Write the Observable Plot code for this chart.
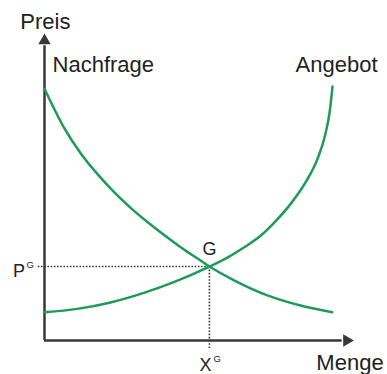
<!DOCTYPE html>
<html>
<head>
<meta charset="utf-8">
<script src="https://cdn.jsdelivr.net/npm/d3@7"></script>
<script src="https://cdn.jsdelivr.net/npm/@observablehq/plot@0.6"></script>
<style>
  html, body { margin: 0; padding: 0; background: #ffffff; }
  #chart svg { display: block; overflow: visible; }
</style>
</head>
<body>
<div id="chart"></div>
<script>
// Demand curve (Nachfrage), in arbitrary 0–100 units
const demandX = [0, 6.1, 11.6, 17.1, 22.3, 27.7, 33.2, 38.4, 43.9, 49.4, 53.2, 61.0, 71.9, 82.6, 92.8];
const demandY = [82.0, 69.7, 61.1, 54.2, 48.5, 43.3, 38.6, 34.5, 30.4, 26.7, 24.1, 19.7, 14.7, 11.4, 9.2];
// Supply curve (Angebot)
const supplyX = [0, 10.6, 21.3, 32.3, 41.9, 53.2, 59.0, 64.2, 69.7, 74.5, 79.4, 84.2, 88.0, 90.5, 92.0, 92.9];
const supplyY = [9.2, 10.3, 12.4, 15.6, 19.1, 24.1, 27.0, 30.2, 34.1, 38.8, 44.5, 51.5, 59.0, 66.8, 74.5, 82.7];
// Equilibrium G
const eqX = 53.2;
const eqY = 24.1;

const axisLabels = ["Preis", "Menge"];
const curveLabels = ["Nachfrage", "Angebot"];
const pointLabel = "G";
const priceLabel = ["P", "G"];
const qtyLabel = ["X", "G"];

const demand = demandX.map((x, i) => ({x, y: demandY[i]}));
const supply = supplyX.map((x, i) => ({x, y: supplyY[i]}));

const green = "#1f9a58";
const dark = "#383838";
const ink = "#222222";
const font = "Liberation Sans, Arial, sans-serif";

const chart = Plot.plot({
  width: 387,
  height: 374,
  marginTop: 33,
  marginBottom: 34,
  marginLeft: 44,
  marginRight: 33,
  x: {domain: [0, 100], axis: null},
  y: {domain: [0, 100], axis: null},
  style: {fontFamily: font, background: "#ffffff", overflow: "visible"},
  marks: [
    // axes
    Plot.ruleX([0], {y1: 0, y2: 96, stroke: dark, strokeWidth: 2.5}),
    Plot.ruleY([0], {x1: 0, x2: 96, stroke: dark, strokeWidth: 2.5}),
    Plot.dot([{x: 0, y: 97.7}], {x: "x", y: "y", symbol: "triangle", r: 4.6, fill: dark, stroke: "none"}),
    Plot.dot([{x: 97.5, y: 0}], {x: "x", y: "y", symbol: "triangle", r: 4.6, fill: dark, stroke: "none", rotate: 90}),
    // dotted guide lines
    Plot.ruleY([eqY], {x1: -2, x2: eqX, stroke: dark, strokeWidth: 1.6, strokeDasharray: "1.6,1.6"}),
    Plot.ruleX([eqX], {y1: -2.6, y2: eqY, stroke: dark, strokeWidth: 1.6, strokeDasharray: "1.6,1.6"}),
    // curves
    Plot.line(demand, {x: "x", y: "y", stroke: green, strokeWidth: 2.5, curve: "monotone-x"}),
    Plot.line(supply, {x: "x", y: "y", stroke: green, strokeWidth: 2.5, curve: "monotone-x"}),
    // labels
    Plot.text([axisLabels[0]], {x: 0.3, y: 101.6, text: d => d, fontSize: 22, fill: ink, lineAnchor: "bottom", textAnchor: "middle"}),
    Plot.text([axisLabels[1]], {x: 87.7, y: -9.5, text: d => d, fontSize: 22, fill: ink, lineAnchor: "bottom", textAnchor: "start"}),
    Plot.text([curveLabels[0]], {x: 2.6, y: 87.6, text: d => d, fontSize: 22, fill: ink, lineAnchor: "bottom", textAnchor: "start"}),
    Plot.text([curveLabels[1]], {x: 81.0, y: 87.6, text: d => d, fontSize: 22, fill: ink, lineAnchor: "bottom", textAnchor: "start"}),
    Plot.text([pointLabel], {x: eqX, y: 27.7, text: d => d, fontSize: 18, fill: ink, lineAnchor: "bottom", textAnchor: "middle"}),
    Plot.text([priceLabel[0]], {x: -10.2, y: 20.8, text: d => d, fontSize: 18, fill: ink, lineAnchor: "bottom", textAnchor: "start"}),
    Plot.text([priceLabel[1]], {x: -5.8, y: 23.5, text: d => d, fontSize: 9.5, fill: ink, lineAnchor: "bottom", textAnchor: "start"}),
    Plot.text([qtyLabel[0]], {x: 50.0, y: -9.8, text: d => d, fontSize: 18, fill: ink, lineAnchor: "bottom", textAnchor: "start"}),
    Plot.text([qtyLabel[1]], {x: 54.5, y: -7.1, text: d => d, fontSize: 9.5, fill: ink, lineAnchor: "bottom", textAnchor: "start"})
  ]
});
document.getElementById("chart").appendChild(chart);
</script>
</body>
</html>
